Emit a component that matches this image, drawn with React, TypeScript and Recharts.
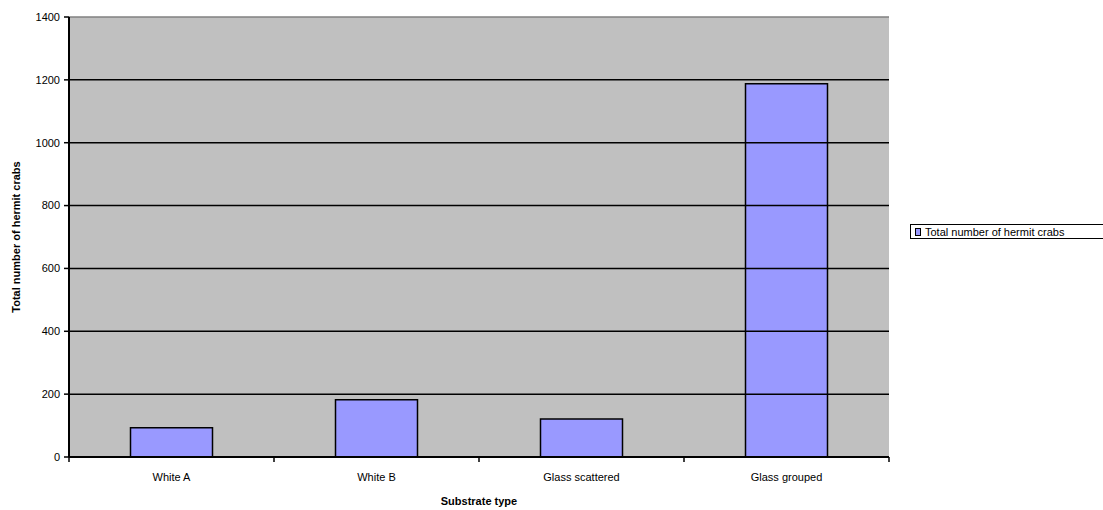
import React from 'react';
import { BarChart, Bar, XAxis, YAxis, CartesianGrid, ReferenceLine, Legend } from 'recharts';

const categories = ['White A', 'White B', 'Glass scattered', 'Glass grouped'];
const crabTotals = [93, 182, 121, 1188];
const yTicks = [0, 200, 400, 600, 800, 1000, 1200, 1400];
const gridValues = [200, 400, 600, 800, 1000, 1200];
const seriesName = 'Total number of hermit crabs';

const data = categories.map((c, i) => ({ name: c, value: crabTotals[i] }));

const FONT = '"Liberation Sans", Arial, sans-serif';
const CHART_W = 1103;
const CHART_H = 510;
const MARGIN = { top: 17, right: 214, bottom: 0, left: 0 };
const Y_AXIS_W = 69;
const PLOT_W = CHART_W - MARGIN.right - MARGIN.left - Y_AXIS_W;

const LegendBox = () => (
  <div
    style={{
      border: '1px solid #000',
      background: '#fff',
      fontFamily: FONT,
      fontSize: 11,
      color: '#000',
      height: 15,
      display: 'flex',
      alignItems: 'center',
      paddingLeft: 4,
      width: 200,
      boxSizing: 'border-box',
      whiteSpace: 'nowrap',
    }}
  >
    <span
      style={{
        display: 'inline-block',
        width: 4,
        height: 6,
        border: '1px solid #000',
        background: '#9999ff',
        marginRight: 4,
      }}
    />
    {seriesName}
  </div>
);

const CategoryTick = (props: any) => {
  const { x, y, payload, index, visibleTicksCount } = props;
  const count = visibleTicksCount || categories.length;
  const axisW = typeof props.width === 'number' && props.width > 0 ? props.width : PLOT_W;
  const band = axisW / count;
  const left = x - band / 2;
  const right = x + band / 2;
  return (
    <g>
      <line x1={left} y1={y} x2={left} y2={y + 5} stroke="#000" strokeWidth={1.5} />
      {index === count - 1 && <line x1={right} y1={y} x2={right} y2={y + 5} stroke="#000" strokeWidth={1.5} />}
      <text x={x} y={y + 24} textAnchor="middle" fontFamily={FONT} fontSize={11} fill="#000">
        {payload.value}
      </text>
    </g>
  );
};

export default function App() {
  return (
    <div style={{ position: 'absolute', left: 0, top: 0, width: CHART_W, height: CHART_H, background: '#fff' }}>
      <BarChart width={CHART_W} height={CHART_H} data={data} margin={MARGIN} barCategoryGap="30%">
        <CartesianGrid fill="#c0c0c0" stroke="none" horizontal={false} vertical={false} />
        {gridValues.map((v) => (
          <ReferenceLine key={v} y={v} stroke="#000" strokeWidth={1.5} />
        ))}
        <ReferenceLine y={1400} stroke="#808080" strokeWidth={1.5} />
        <XAxis
          dataKey="name"
          height={53}
          interval={0}
          tickLine={false}
          axisLine={{ stroke: '#000', strokeWidth: 2 }}
          tickSize={0}
          tickMargin={0}
          tick={<CategoryTick />}
          label={{
            value: 'Substrate type',
            position: 'insideBottom',
            offset: 5,
            style: { fontFamily: FONT, fontSize: 11, fontWeight: 'bold', fill: '#000' },
          }}
        />
        <YAxis
          width={Y_AXIS_W}
          domain={[0, 1400]}
          ticks={yTicks}
          interval={0}
          tickSize={5}
          tickMargin={4}
          tickLine={{ stroke: '#000', strokeWidth: 1.5 }}
          axisLine={{ stroke: '#000', strokeWidth: 2 }}
          tick={{ fontFamily: FONT, fontSize: 11, fill: '#000' }}
          label={{
            value: 'Total number of hermit crabs',
            angle: -90,
            position: 'center',
            dx: -18,
            style: { fontFamily: FONT, fontSize: 11, fontWeight: 'bold', fill: '#000', textAnchor: 'middle' },
          }}
        />
        <YAxis
          yAxisId="right"
          orientation="right"
          width={0}
          domain={[0, 1400]}
          tick={false}
          tickLine={false}
          axisLine={{ stroke: '#808080', strokeWidth: 1.5 }}
        />
        <Legend
          layout="horizontal"
          verticalAlign="middle"
          align="center"
          content={<LegendBox />}
          wrapperStyle={{ position: 'absolute', left: 910, top: 224, width: 200 }}
        />
        <Bar
          dataKey="value"
          name={seriesName}
          fill="#9999ff"
          stroke="#000"
          strokeWidth={1.5}
          isAnimationActive={false}
        />
      </BarChart>
    </div>
  );
}
